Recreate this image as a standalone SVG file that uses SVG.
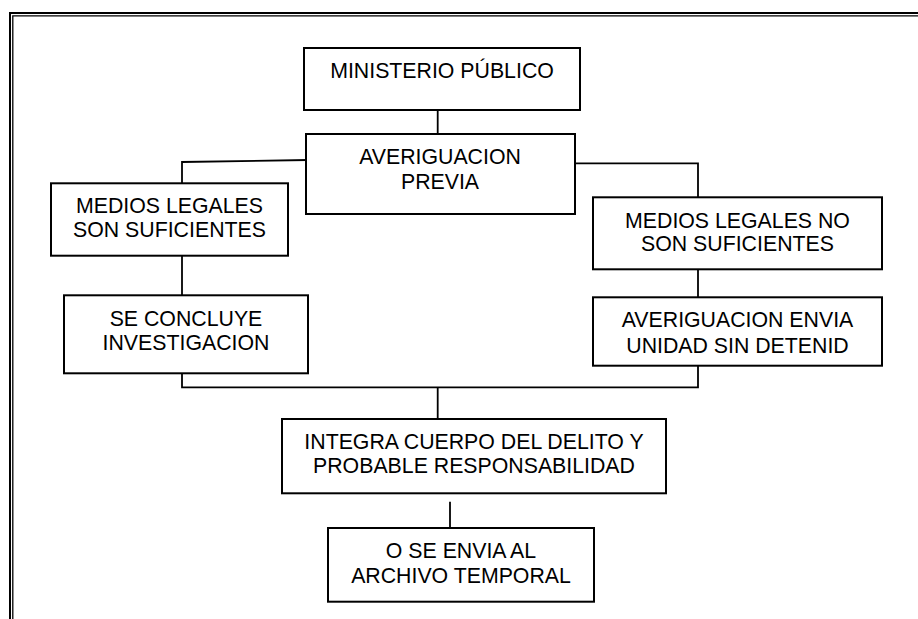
<svg xmlns="http://www.w3.org/2000/svg" width="918" height="619" viewBox="0 0 918 619">
<style>
.box{fill:#fff;stroke:#000;stroke-width:2}
.t{font-family:"Liberation Sans",Arial,sans-serif;font-size:21.3px;fill:#000;text-anchor:middle}
.c{fill:none;stroke:#000;stroke-width:1.8}
</style>
<rect width="918" height="619" fill="#fff"/>
<g id="frame" fill="none" stroke="#000">
<path d="M10 619 V13 H918" stroke-width="2"/>
<path d="M12.8 619 V15.8 H918" stroke-width="1.3"/>
</g>
<g id="connectors">
<path class="c" d="M437.7 105 V134"/>
<path class="c" d="M308 160 L182 162 V183"/>
<path class="c" d="M182 256 V295"/>
<path class="c" d="M575 163.3 H698 V197"/>
<path class="c" d="M698 266.5 V297"/>
<path class="c" d="M182 373 V387.3 H698 V363.5"/>
<path class="c" d="M437.7 387.3 V419"/>
<path class="c" d="M450 501.7 V528"/>
</g>
<g id="ministerio">
<rect class="box" x="304" y="48" width="276" height="62"/>
<text class="t" x="442" y="78">MINISTERIO PÚBLICO</text>
</g>
<g id="averiguacion">
<rect class="box" x="306" y="134" width="269" height="80"/>
<text class="t" x="440" y="164.3">AVERIGUACION</text>
<text class="t" x="440" y="188.7">PREVIA</text>
</g>
<g id="medios-si">
<rect class="box" x="51" y="183.3" width="237" height="72.4"/>
<text class="t" x="169.5" y="213.3">MEDIOS LEGALES</text>
<text class="t" x="169.5" y="237.3">SON SUFICIENTES</text>
</g>
<g id="concluye">
<rect class="box" x="64" y="295.3" width="244" height="78"/>
<text class="t" x="186" y="326">SE CONCLUYE</text>
<text class="t" x="186" y="350">INVESTIGACION</text>
</g>
<g id="medios-no">
<rect class="box" x="593" y="197.3" width="289" height="72"/>
<text class="t" x="737.5" y="227.7">MEDIOS LEGALES NO</text>
<text class="t" x="737.5" y="250.7">SON SUFICIENTES</text>
</g>
<g id="envia">
<rect class="box" x="593" y="297.3" width="289" height="68.4"/>
<text class="t" x="737.5" y="326.7">AVERIGUACION ENVIA</text>
<text class="t" x="737.5" y="352.7">UNIDAD SIN DETENID</text>
</g>
<g id="integra">
<rect class="box" x="282" y="419" width="384" height="74.3"/>
<text class="t" x="474" y="449.3">INTEGRA CUERPO DEL DELITO Y</text>
<text class="t" x="474" y="473.3">PROBABLE RESPONSABILIDAD</text>
</g>
<g id="archivo">
<rect class="box" x="328" y="528" width="266" height="73.7"/>
<text class="t" x="461" y="558.3">O SE ENVIA AL</text>
<text class="t" x="461" y="582.7">ARCHIVO TEMPORAL</text>
</g>
</svg>
